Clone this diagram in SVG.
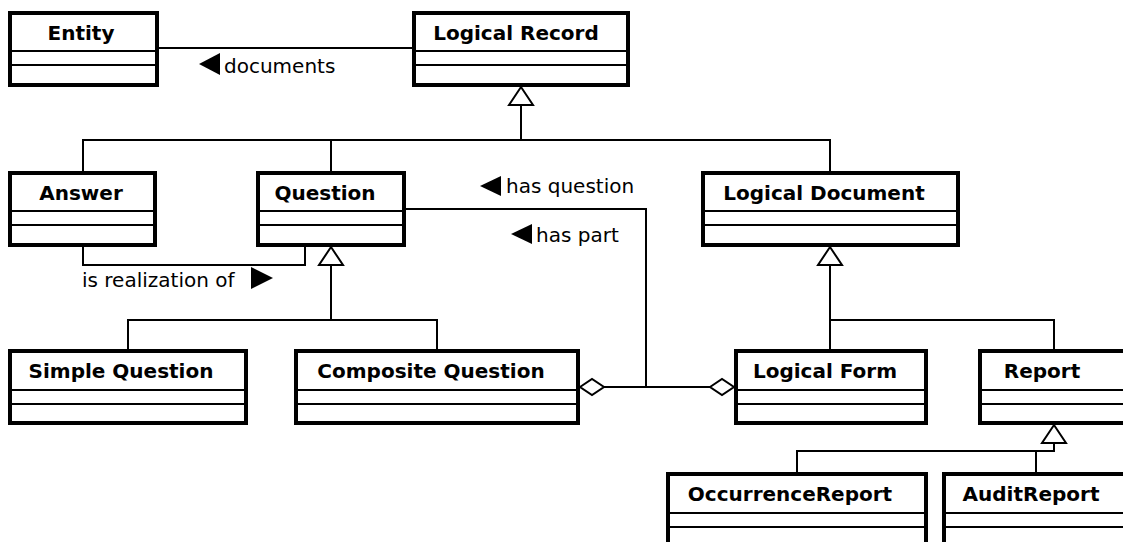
<svg xmlns="http://www.w3.org/2000/svg" width="1123" height="542" viewBox="0 0 1123 542">
  <defs>
    <style>
      .box { fill: #fff; stroke: #000; stroke-width: 4; }
      .sep { stroke: #000; stroke-width: 2; }
      .title { font-family: "DejaVu Sans", Verdana, sans-serif; font-weight: bold; font-size: 20px; fill: #000; text-anchor: middle; }
      .lbl { font-family: "DejaVu Sans", Verdana, sans-serif; font-size: 20px; fill: #000; }
      .ln { fill: none; stroke: #000; stroke-width: 2; }
      .gen { fill: #fff; stroke: #000; stroke-width: 2; stroke-linejoin: miter; }
      .agg { fill: #fff; stroke: #000; stroke-width: 2; }
      .dir { fill: #000; }
    </style>
  </defs>
  <rect width="1123" height="542" fill="#fff"/>

  <!-- associations, generalizations and labels -->
  <g id="connectors">
    <!-- Entity - Logical Record -->
    <line class="ln" x1="157" y1="48" x2="414" y2="48"/>
    <polygon class="dir" points="199,64 220,53 220,75"/>
    <text class="lbl" x="224" y="73">documents</text>

    <!-- Logical Record generalization -->
    <polyline class="ln" points="83,172 83,140 830,140 830,172"/>
    <line class="ln" x1="331" y1="140" x2="331" y2="172"/>
    <line class="ln" x1="521" y1="105" x2="521" y2="140"/>
    <polygon class="gen" points="521,87 509,105 533,105"/>

    <!-- Answer - Question -->
    <polyline class="ln" points="83,245 83,265 305,265 305,245"/>
    <text class="lbl" x="82" y="287">is realization of</text>
    <polygon class="dir" points="273,278 251,267 251,289"/>

    <!-- Question generalization -->
    <polyline class="ln" points="128,350 128,320 437,320 437,350"/>
    <line class="ln" x1="331" y1="265" x2="331" y2="320"/>
    <polygon class="gen" points="331,247 319,265 343,265"/>

    <!-- Question - Composite Question / Logical Form -->
    <polyline class="ln" points="404,209 646,209 646,387"/>
    <line class="ln" x1="604" y1="387" x2="710" y2="387"/>
    <polygon class="agg" points="580,387 592,379 604,387 592,395"/>
    <polygon class="agg" points="710,387 722,379 734,387 722,395"/>
    <polygon class="dir" points="480,186 501,176 501,196"/>
    <text class="lbl" x="506" y="193">has question</text>
    <polygon class="dir" points="511,234 532,224 532,244"/>
    <text class="lbl" x="536" y="242">has part</text>

    <!-- Logical Document generalization -->
    <polyline class="ln" points="830,350 830,320 1054,320 1054,350"/>
    <line class="ln" x1="830" y1="265" x2="830" y2="320"/>
    <polygon class="gen" points="830,247 818,265 842,265"/>

    <!-- Report generalization -->
    <polyline class="ln" points="797,474 797,451 1054,451 1054,443"/>
    <line class="ln" x1="1036" y1="451" x2="1036" y2="474"/>
    <polygon class="gen" points="1054,425 1042,443 1066,443"/>
  </g>

  <!-- classes -->
  <g id="entity">
    <rect class="box" x="10" y="13" width="147" height="72"/>
    <line class="sep" x1="10" y1="51" x2="157" y2="51"/>
    <line class="sep" x1="10" y1="65" x2="157" y2="65"/>
    <text class="title" x="81" y="40">Entity</text>
  </g>
  <g id="logical-record">
    <rect class="box" x="414" y="13" width="214" height="72"/>
    <line class="sep" x1="414" y1="51" x2="628" y2="51"/>
    <line class="sep" x1="414" y1="65" x2="628" y2="65"/>
    <text class="title" x="516" y="40">Logical Record</text>
  </g>
  <g id="answer">
    <rect class="box" x="10" y="173" width="145" height="72"/>
    <line class="sep" x1="10" y1="211" x2="155" y2="211"/>
    <line class="sep" x1="10" y1="225" x2="155" y2="225"/>
    <text class="title" x="81" y="200">Answer</text>
  </g>
  <g id="question">
    <rect class="box" x="258" y="173" width="146" height="72"/>
    <line class="sep" x1="258" y1="211" x2="404" y2="211"/>
    <line class="sep" x1="258" y1="225" x2="404" y2="225"/>
    <text class="title" x="325" y="200">Question</text>
  </g>
  <g id="logical-document">
    <rect class="box" x="703" y="173" width="255" height="72"/>
    <line class="sep" x1="703" y1="211" x2="958" y2="211"/>
    <line class="sep" x1="703" y1="225" x2="958" y2="225"/>
    <text class="title" x="824" y="200">Logical Document</text>
  </g>
  <g id="simple-question">
    <rect class="box" x="10" y="351" width="236" height="72"/>
    <line class="sep" x1="10" y1="390" x2="246" y2="390"/>
    <line class="sep" x1="10" y1="404" x2="246" y2="404"/>
    <text class="title" x="121" y="378">Simple Question</text>
  </g>
  <g id="composite-question">
    <rect class="box" x="296" y="351" width="282" height="72"/>
    <line class="sep" x1="296" y1="390" x2="578" y2="390"/>
    <line class="sep" x1="296" y1="404" x2="578" y2="404"/>
    <text class="title" x="431" y="378">Composite Question</text>
  </g>
  <g id="logical-form">
    <rect class="box" x="736" y="351" width="190" height="72"/>
    <line class="sep" x1="736" y1="390" x2="926" y2="390"/>
    <line class="sep" x1="736" y1="404" x2="926" y2="404"/>
    <text class="title" x="825" y="378">Logical Form</text>
  </g>
  <g id="report">
    <rect class="box" x="980" y="351" width="152" height="72"/>
    <line class="sep" x1="980" y1="390" x2="1132" y2="390"/>
    <line class="sep" x1="980" y1="404" x2="1132" y2="404"/>
    <text class="title" x="1042" y="378">Report</text>
  </g>
  <g id="occurrence-report">
    <rect class="box" x="668" y="474" width="258" height="72"/>
    <line class="sep" x1="668" y1="513" x2="926" y2="513"/>
    <line class="sep" x1="668" y1="527" x2="926" y2="527"/>
    <text class="title" x="790" y="501">OccurrenceReport</text>
  </g>
  <g id="audit-report">
    <rect class="box" x="944" y="474" width="192" height="72"/>
    <line class="sep" x1="944" y1="513" x2="1136" y2="513"/>
    <line class="sep" x1="944" y1="527" x2="1136" y2="527"/>
    <text class="title" x="1031" y="501">AuditReport</text>
  </g>
</svg>
